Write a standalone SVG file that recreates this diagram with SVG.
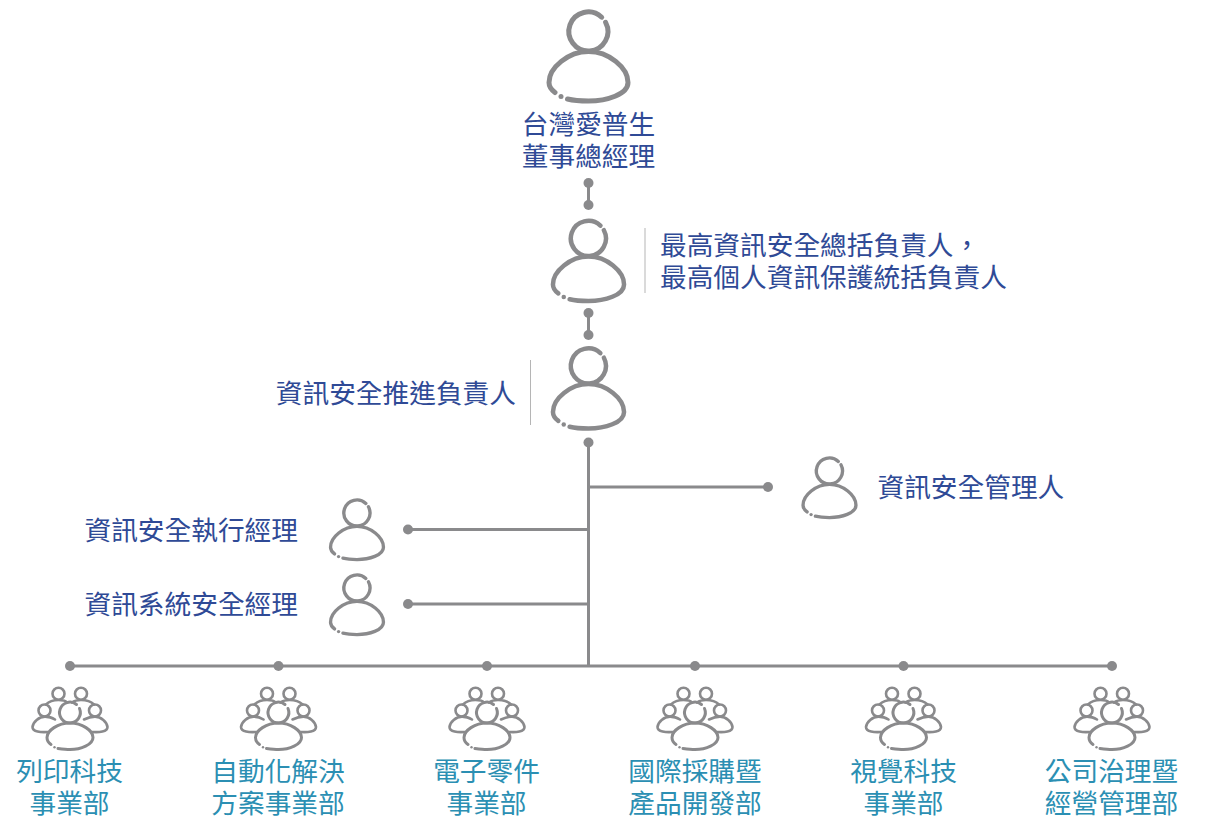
<svg xmlns="http://www.w3.org/2000/svg" width="1207" height="820" viewBox="0 0 1207 820">
<style>
text{font-family:"Noto Sans CJK TC","Noto Sans",sans-serif;font-size:26.7px}
.n{fill:#2f4a96}
.t{fill:#2b8fb3}
.m{text-anchor:middle}
.e{text-anchor:end}
.ic{fill:none;stroke:#8a8a8c;stroke-linecap:round;stroke-linejoin:round}
.l{stroke:#8a8a8c;stroke-width:3;fill:none}
.d{fill:#8a8a8c}
.s{stroke:#b5b5b5;stroke-width:1;fill:none}
</style>
<defs>
<g id="person">
<path class="ic" stroke-width="5" d="M13.200 -14.300A19.500 19.500 0 1 0 17.100 -9.200"/>
<path class="ic" stroke-width="5" d="M-33.500 61C-37.500 58 -39.500 55 -39.500 51C-39.500 36 -20 20 0 20C20 20 39.500 36 39.500 51C39.500 63 18 69.500 0 69.500C-8 69.500 -15 69 -21 67.500"/>
<circle class="d" cx="-27.500" cy="65" r="2.500"/>
</g>
<g id="team">
<g class="ic" stroke-width="2.600">
<circle cx="-11.500" cy="-18.300" r="6"/>
<circle cx="11" cy="-18.300" r="6"/>
<circle cx="-25.500" cy="-1.500" r="6"/>
<circle cx="25" cy="-1.500" r="6"/>
<path stroke-width="3" d="M6.500 -7.500A10.400 10.400 0 1 0 9.500 -3.500"/>
<path d="M-11.500 -12C-17 -12 -22 -9.500 -24 -7.500M-11.500 -12C-7 -12 -4 -11 -3 -9.500M11 -12C17 -12 22 -9.500 24 -7.500M11 -12C7 -12 4 -11 2 -9.500"/>
<path d="M-15 7.500C-18 5.500 -22 4.600 -25 4.600C-31 4.600 -37 10 -37.500 15C-37.500 20 -29 20.500 -22 20"/>
<path d="M14 7.500C18 5.500 22 4.600 25 4.600C31 4.600 37 10 37.500 15C37.500 20 29 20.500 22 20"/>
<path stroke-width="3" d="M-19 32.500C-22 30.500 -23 28.500 -23 25.500C-23 18.500 -12 11 0 11C12 11 23 18.500 23 25.500C23 32.500 11 37.500 0 37.500C-4 37.500 -8 37 -12 36.500"/>
<circle class="d" stroke="none" cx="-15.500" cy="35.200" r="1.200"/>
</g>
</g>
</defs>
<g id="connectors">
<circle class="d" cx="588.500" cy="183" r="5"/><circle class="d" cx="588.500" cy="205" r="5"/><path class="l" d="M588.500 183V205"/>
<circle class="d" cx="588.500" cy="313" r="5"/><circle class="d" cx="588.500" cy="335" r="5"/><path class="l" d="M588.500 313V335"/>
<circle class="d" cx="588.500" cy="442.500" r="5"/>
<path class="l" d="M588.500 442.500V666M588.500 487H768M408 529.500H588.500M408 604H588.500M70 666H1112"/>
<circle class="d" cx="768" cy="487" r="5"/><circle class="d" cx="408" cy="529.500" r="5"/><circle class="d" cx="408" cy="604" r="5"/>
<circle class="d" cx="70" cy="666" r="5"/><circle class="d" cx="278.500" cy="666" r="5"/><circle class="d" cx="487" cy="666" r="5"/><circle class="d" cx="695" cy="666" r="5"/><circle class="d" cx="903.500" cy="666" r="5"/><circle class="d" cx="1112" cy="666" r="5"/>
<path class="s" d="M645 228V293M530.500 360V425"/>
</g>
<g id="gm"><use href="#person" transform="translate(588.500 31.500)"/><text class="n m" x="588.500" y="134">台灣愛普生</text><text class="n m" x="588.500" y="166">董事總經理</text></g>
<g id="ciso"><use href="#person" transform="translate(588.500 238.500) scale(.9)"/><text class="n" x="660" y="255">最高資訊安全總括負責人，</text><text class="n" x="660" y="287">最高個人資訊保護統括負責人</text></g>
<g id="promoter"><use href="#person" transform="translate(588.500 366) scale(.9)"/><text class="n e" x="516" y="403">資訊安全推進負責人</text></g>
<g id="manager"><use href="#person" transform="translate(829.500 471) scale(.67)"/><text class="n" x="877.500" y="497">資訊安全管理人</text></g>
<g id="exec"><use href="#person" transform="translate(357 513) scale(.67)"/><text class="n e" x="298" y="540">資訊安全執行經理</text></g>
<g id="sys"><use href="#person" transform="translate(357 588) scale(.67)"/><text class="n e" x="298" y="614">資訊系統安全經理</text></g>
<g id="d1"><use href="#team" transform="translate(70 712)"/><text class="t m" x="69.500" y="781">列印科技</text><text class="t m" x="69.500" y="813">事業部</text></g>
<g id="d2"><use href="#team" transform="translate(278.500 712)"/><text class="t m" x="278" y="781">自動化解決</text><text class="t m" x="278" y="813">方案事業部</text></g>
<g id="d3"><use href="#team" transform="translate(487 712)"/><text class="t m" x="486.500" y="781">電子零件</text><text class="t m" x="486.500" y="813">事業部</text></g>
<g id="d4"><use href="#team" transform="translate(695 712)"/><text class="t m" x="695" y="781">國際採購暨</text><text class="t m" x="695" y="813">產品開發部</text></g>
<g id="d5"><use href="#team" transform="translate(903.500 712)"/><text class="t m" x="903.500" y="781">視覺科技</text><text class="t m" x="903.500" y="813">事業部</text></g>
<g id="d6"><use href="#team" transform="translate(1112 712)"/><text class="t m" x="1111.500" y="781">公司治理暨</text><text class="t m" x="1111.500" y="813">經營管理部</text></g>
</svg>
